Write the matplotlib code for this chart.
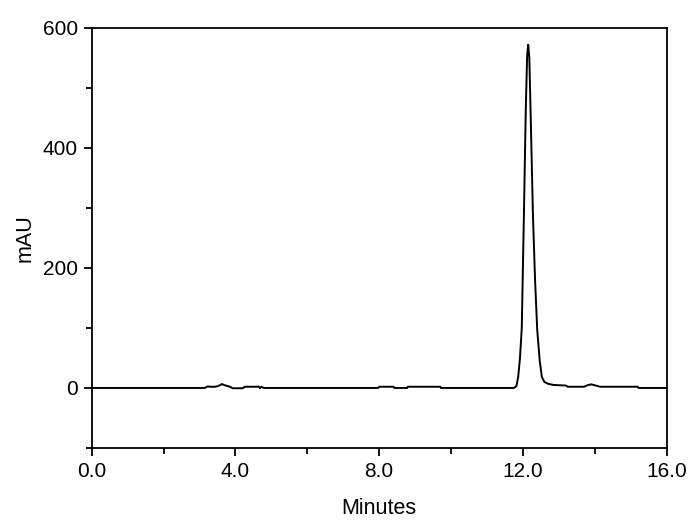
import matplotlib
matplotlib.use("Agg")
import matplotlib.pyplot as plt
from matplotlib.ticker import MultipleLocator, FormatStrFormatter

plt.rcParams['font.family'] = ['Liberation Sans', 'DejaVu Sans']

# chromatogram (minutes, mAU)
minutes = [0.0, 3.15, 3.22, 3.3, 3.45, 3.55, 3.62, 3.7, 3.85, 3.92, 4.2, 4.26,
           4.6, 4.64, 4.68, 4.72, 4.77, 4.8, 7.97, 8.0, 8.4, 8.42, 8.78, 8.8,
           9.7, 9.72, 11.75, 11.82, 11.87, 11.92, 11.97, 12.03, 12.08, 12.12,
           12.15, 12.18, 12.22, 12.28, 12.34, 12.40, 12.47, 12.53, 12.6, 12.7,
           12.85, 13.2, 13.25, 13.7, 13.8, 13.9, 14.0, 14.15, 15.2, 15.22, 16.0]
mau = [0.0, 0.0, 2.5, 2.0, 2.0, 4.0, 6.5, 4.5, 2.0, -0.5, -0.5, 2.0,
       2.0, 2.5, -0.5, 2.0, 0.5, 0.0, 0.0, 2.0, 2.0, 0.0, 0.0, 2.0,
       2.0, 0.0, 0.0, 3.0, 18.0, 50.0, 100.0, 290.0, 460.0, 555.0,
       572.0, 550.0, 450.0, 290.0, 180.0, 97.0, 45.0, 18.0, 10.0, 7.0,
       5.0, 4.0, 2.0, 2.0, 4.5, 6.0, 4.5, 2.0, 2.0, 0.0, 0.0]

fig, ax = plt.subplots(figsize=(6.9, 5.27), dpi=100)
fig.subplots_adjust(left=0.133, right=0.966, top=0.947, bottom=0.15)

ax.plot(minutes, mau, color='black', linewidth=1.4)

ax.set_xlim(0, 16)
ax.set_ylim(-100, 600)
ax.xaxis.set_major_locator(MultipleLocator(4))
ax.xaxis.set_minor_locator(MultipleLocator(2))
ax.xaxis.set_major_formatter(FormatStrFormatter('%.1f'))
ax.yaxis.set_major_locator(MultipleLocator(200))
ax.yaxis.set_minor_locator(MultipleLocator(100))

ax.tick_params(which='major', direction='out', length=6, width=1.3, labelsize=15, pad=4)
ax.tick_params(which='minor', direction='out', length=4, width=1.3)
for s in ax.spines.values():
    s.set_linewidth(1.3)

ax.set_xlabel('Minutes', fontsize=15.5, labelpad=12)
ax.set_ylabel('mAU', fontsize=15.5, labelpad=5)

fig.savefig('out.png', dpi=100)
